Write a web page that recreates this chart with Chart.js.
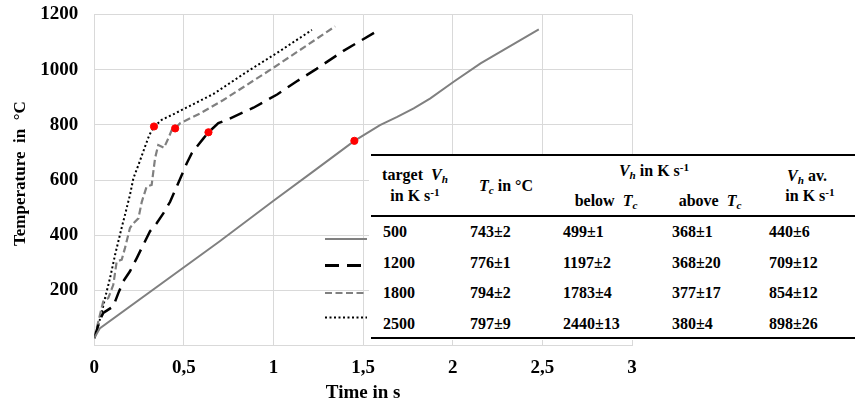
<!DOCTYPE html>
<html>
<head>
<meta charset="utf-8">
<script src="https://cdn.jsdelivr.net/npm/chart.js@4.4.1/dist/chart.umd.min.js"></script>
<style>
body { margin: 0; background: #fff; }
#wrap { position: relative; width: 855px; height: 404px; font-family: "Liberation Serif", "Times New Roman", serif; font-weight: bold; color: #000; }
#tbl { position: absolute; left: 369px; top: 154px; width: 486px; height: 186px; background: #fff; }
.ln { position: absolute; background: #000; left: 2px; right: 0; }
.tx { position: absolute; font-size: 16px; line-height: 1; white-space: pre; transform: translateY(-50%); }
.c { transform: translate(-50%, -50%); }
.sub, .sup { font-size: 0.7em; position: relative; }
.sub { top: 0.3em; }
.sup { top: -0.45em; }
</style>
</head>
<body>
<div id="wrap">
  <canvas id="chart" width="855" height="404"></canvas>
  <div id="tbl"></div>
</div>
<script>
// heating curves, time in s / temperature in °C
var time500 = [0, 0.032, 0.7, 1.0, 1.224, 1.451, 1.594, 1.69, 1.782, 1.875, 2.005, 2.155, 2.48];
var temp500 = [27, 63, 378, 525, 632, 742, 799, 829, 860, 896, 956, 1023, 1146];

var time1200 = [0, 0.032, 0.05, 0.078, 0.106, 0.134, 0.162, 0.199, 0.237, 0.274, 0.311, 0.348, 0.385, 0.423, 0.46, 0.488, 0.516, 0.544, 0.572, 0.609, 0.637, 0.692, 0.74, 0.888, 1.02, 1.13, 1.24, 1.39, 1.596];
var temp1200 = [27, 94, 118, 130, 142, 190, 233, 269, 317, 366, 414, 443, 479, 521, 576, 618, 661, 697, 721, 751, 773, 806, 818, 862, 910, 958, 1003, 1068, 1147];

var time1800 = [0, 0.032, 0.05, 0.078, 0.106, 0.125, 0.153, 0.171, 0.199, 0.218, 0.246, 0.265, 0.292, 0.32, 0.339, 0.357, 0.389, 0.413, 0.432, 0.451, 0.479, 0.59, 0.72, 1.0, 1.344];
var temp1800 = [27, 112, 160, 172, 220, 305, 311, 353, 426, 443, 461, 521, 576, 582, 679, 727, 717, 751, 781, 787, 806, 841, 890, 1007, 1157];

var time2500 = [0, 0.013, 0.041, 0.06, 0.088, 0.116, 0.153, 0.171, 0.199, 0.218, 0.246, 0.283, 0.307, 0.333, 0.376, 0.44, 0.665, 0.851, 1.037, 1.214];
var temp2500 = [27, 51, 118, 172, 245, 329, 428, 473, 546, 606, 654, 721, 763, 793, 818, 838, 912, 992, 1068, 1144];

// transformation points Tc
var tcTime = [1.451, 0.637, 0.451, 0.333];
var tcTemp = [742, 773, 787, 794];

// table
var targetRates = ['500', '1200', '1800', '2500'];
var tcText = ['743±2', '776±1', '794±2', '797±9'];
var belowText = ['499±1', '1197±2', '1783±4', '2440±13'];
var aboveText = ['368±1', '368±20', '377±17', '380±4'];
var avgText = ['440±6', '709±12', '854±12', '898±26'];

var xTicks = [0, 0.5, 1, 1.5, 2, 2.5, 3];
var yTicks = [200, 400, 600, 800, 1000, 1200];

function pts(xs, ys) {
    var out = [];
    for (var i = 0; i < xs.length; i++) out.push({x: xs[i], y: ys[i]});
    return out;
}

var font = 'Liberation Serif';

// line samples next to the table rows
var keyY = [239, 265.5, 293, 317.5];
var legendKey = {
    id: 'legendKey',
    afterDraw: function (chart) {
        var ctx = chart.ctx;
        for (var i = 0; i < keyY.length; i++) {
            var ds = chart.data.datasets[i + 1];
            ctx.save();
            ctx.strokeStyle = ds.borderColor;
            ctx.lineWidth = ds.borderWidth + (i == 1 ? 0.5 : 0);
            ctx.setLineDash(ds.borderDash || []);
            ctx.beginPath();
            ctx.moveTo(325, keyY[i]);
            ctx.lineTo(367, keyY[i]);
            ctx.stroke();
            ctx.restore();
        }
    }
};

new Chart(document.getElementById('chart').getContext('2d'), {
    type: 'scatter',
    data: {
        datasets: [
            {data: pts(tcTime, tcTemp), backgroundColor: '#ff0000', borderColor: '#ff0000', pointRadius: 3.6, showLine: false, order: 0},
            {data: pts(time500, temp500), borderColor: '#808080', borderWidth: 2, showLine: true, pointRadius: 0, order: 1},
            {data: pts(time1200, temp1200), borderColor: '#000000', borderWidth: 2.5, borderDash: [14, 8], showLine: true, pointRadius: 0, order: 1},
            {data: pts(time1800, temp1800), borderColor: '#808080', borderWidth: 2.2, borderDash: [7, 3.5], showLine: true, pointRadius: 0, order: 1},
            {data: pts(time2500, temp2500), borderColor: '#000000', borderWidth: 2, borderDash: [2, 2.5], showLine: true, pointRadius: 0, order: 1}
        ]
    },
    options: {
        responsive: false,
        animation: false,
        layout: {padding: {top: 14.5, right: 223, left: 0, bottom: 0}},
        plugins: {legend: {display: false}, tooltip: {enabled: false}},
        scales: {
            x: {
                type: 'linear', min: 0, max: 3,
                afterBuildTicks: function (s) { s.ticks = xTicks.map(function (v) { return {value: v}; }); },
                afterFit: function (s) { s.height = 58.5; },
                grid: {color: '#d9d9d9', drawTicks: false},
                border: {color: '#d9d9d9'},
                ticks: {
                    padding: 11, color: '#000', maxRotation: 0,
                    font: {family: font, size: 19, weight: 'bold'},
                    callback: function (v) { return String(v).replace('.', ','); }
                },
                title: {display: true, text: 'Time in s', color: '#000', padding: {top: 0, bottom: 0}, font: {family: font, size: 19, weight: 'bold'}}
            },
            y: {
                min: 0, max: 1200,
                afterBuildTicks: function (s) { s.ticks = [0].concat(yTicks).map(function (v) { return {value: v}; }); },
                afterFit: function (s) { s.width = 94.3; s.paddingTop = 0; s.paddingBottom = 0; },
                grid: {color: '#d9d9d9', drawTicks: false},
                border: {color: '#d9d9d9'},
                ticks: {
                    padding: 16, color: '#000',
                    font: {family: font, size: 19, weight: 'bold'},
                    callback: function (v) { return v === 0 ? '' : v; }
                },
                title: {display: true, text: '   Temperature  in  °C', color: '#000', padding: {top: 10, bottom: 0}, font: {family: font, size: 17, weight: 'bold'}}
            }
        }
    },
    plugins: [legendKey]
});

// table overlay
var tbl = document.getElementById('tbl');
var L = 369, T = 154;
function line(y, h) {
    var d = document.createElement('div');
    d.className = 'ln';
    d.style.top = (y - T) + 'px';
    d.style.height = h + 'px';
    tbl.appendChild(d);
}
function text(html, x, y, centered) {
    var d = document.createElement('div');
    d.className = 'tx' + (centered ? ' c' : '');
    d.innerHTML = html;
    d.style.left = (x - L) + 'px';
    d.style.top = (y - T) + 'px';
    tbl.appendChild(d);
}
var Vh = '<i>V</i><span class="sub"><i>h</i></span>';
var Tc = '<i>T</i><span class="sub"><i>c</i></span>';
var perS = 'in K s<span class="sup">-1</span>';

line(154, 1.6);
line(215, 2.2);
line(337, 2);

text('target  ' + Vh, 415, 175, true);
text(perS, 415, 196, true);
text(Tc + ' in °C', 506, 186, true);
text(Vh + ' in K s<span class="sup">-1</span>', 654, 171, true);
text('below  ' + Tc, 606, 201, true);
text('above  ' + Tc, 710, 201, true);
text(Vh + ' av.', 807, 176, true);
text(perS, 810, 196, true);

var rowY = [232, 263, 293, 324];
var colX = [383, 470, 563, 672, 769];
var cols = [targetRates, tcText, belowText, aboveText, avgText];
for (var r = 0; r < rowY.length; r++) {
    for (var c = 0; c < cols.length; c++) {
        text(cols[c][r], colX[c], rowY[r], false);
    }
}
</script>
</body>
</html>
